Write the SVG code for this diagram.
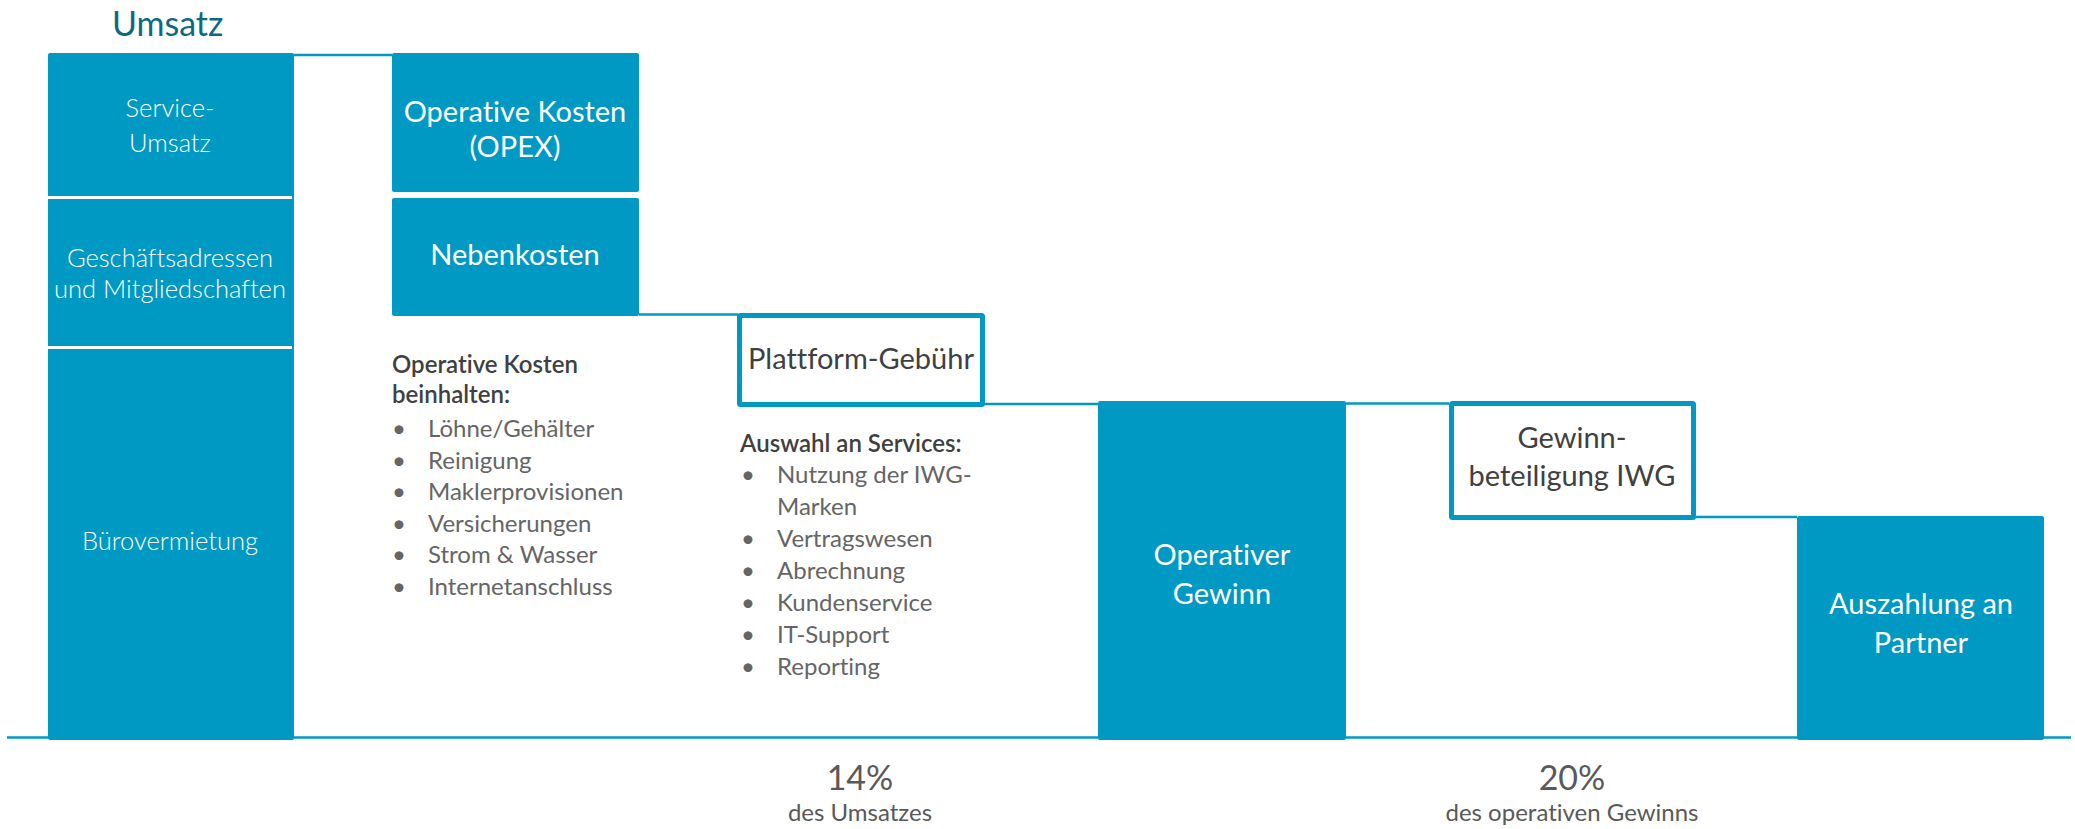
<svg xmlns="http://www.w3.org/2000/svg" width="2075" height="829" viewBox="0 0 2075 829">
<style>
.fill{fill:#0099C4}
.outl{fill:#fff;stroke:#0099C4;stroke-width:5}
.ln{stroke:#0099C4;stroke-width:2.5;fill:none}
.div{stroke:#fff;stroke-width:3}
.t{font-family:Lato,"Open Sans",sans-serif;font-variant-ligatures:none}
.wl{fill:#fff;font-size:25.5px;font-weight:300;text-anchor:middle}
.wr{fill:#fff;font-size:29px;text-anchor:middle}
.gr{fill:#404040;font-size:29px;text-anchor:middle}
.hd{fill:#404040;font-size:24px;font-weight:600}
.it{fill:#656565;font-size:24px}
.pc{fill:#595959;font-size:34px;text-anchor:middle}
.sub{fill:#595959;font-size:24px;text-anchor:middle}
</style>
<rect width="2075" height="829" fill="#fff"/>
<g id="connectors">
<line class="ln" x1="294" y1="55" x2="392" y2="55"/>
<line class="ln" x1="639" y1="314.5" x2="738" y2="314.5"/>
<line class="ln" x1="984" y1="404" x2="1098" y2="404"/>
<line class="ln" x1="1346" y1="403.5" x2="1449" y2="403.5"/>
<line class="ln" x1="1695" y1="517" x2="1797" y2="517"/>
<line class="ln" x1="7" y1="737.5" x2="2071" y2="737.5"/>
</g>
<text class="t" x="112" y="36" font-size="34" fill="#0B6A80">Umsatz</text>
<g id="umsatz">
<rect class="fill" x="48" y="53" width="246" height="687" rx="2"/>
<line class="div" x1="48" y1="197.5" x2="292" y2="197.5"/>
<line class="div" x1="48" y1="347.5" x2="292" y2="347.5"/>
<text class="t wl" x="170" y="117">Service-</text>
<text class="t wl" x="170" y="152">Umsatz</text>
<text class="t wl" x="170" y="267">Geschäftsadressen</text>
<text class="t wl" x="170" y="298">und Mitgliedschaften</text>
<text class="t wl" x="170" y="550">Bürovermietung</text>
</g>
<g id="opex">
<rect class="fill" x="392" y="53" width="247" height="139" rx="2"/>
<text class="t wr" x="515" y="122">Operative Kosten</text>
<text class="t wr" x="515" y="157">(OPEX)</text>
</g>
<g id="nebenkosten">
<rect class="fill" x="392" y="198" width="247" height="118" rx="2"/>
<text class="t wr" x="515" y="265">Nebenkosten</text>
</g>
<g id="opex-list">
<text class="t hd" x="392" y="373">Operative Kosten</text>
<text class="t hd" x="392" y="403">beinhalten:</text>
<g class="t it">
<text x="392" y="437">•</text><text x="428" y="437">Löhne/Gehälter</text>
<text x="392" y="468.6">•</text><text x="428" y="468.6">Reinigung</text>
<text x="392" y="500.2">•</text><text x="428" y="500.2">Maklerprovisionen</text>
<text x="392" y="531.8">•</text><text x="428" y="531.8">Versicherungen</text>
<text x="392" y="563.4">•</text><text x="428" y="563.4">Strom &amp; Wasser</text>
<text x="392" y="595">•</text><text x="428" y="595">Internetanschluss</text>
</g>
</g>
<g id="plattform">
<rect class="outl" x="739.5" y="315.5" width="243" height="89" rx="1"/>
<text class="t gr" x="861" y="369">Plattform-Gebühr</text>
</g>
<g id="services-list">
<text class="t hd" x="740" y="452">Auswahl an Services:</text>
<g class="t it">
<text x="741" y="483">•</text><text x="777" y="483">Nutzung der IWG-</text>
<text x="777" y="515">Marken</text>
<text x="741" y="547">•</text><text x="777" y="547">Vertragswesen</text>
<text x="741" y="579">•</text><text x="777" y="579">Abrechnung</text>
<text x="741" y="611">•</text><text x="777" y="611">Kundenservice</text>
<text x="741" y="643">•</text><text x="777" y="643">IT-Support</text>
<text x="741" y="675">•</text><text x="777" y="675">Reporting</text>
</g>
</g>
<g id="operativer-gewinn">
<rect class="fill" x="1098" y="401" width="248" height="339" rx="2"/>
<text class="t wr" x="1222" y="565">Operativer</text>
<text class="t wr" x="1222" y="604">Gewinn</text>
</g>
<g id="gewinnbeteiligung">
<rect class="outl" x="1451.5" y="403.5" width="242" height="114" rx="1"/>
<text class="t gr" x="1572" y="448">Gewinn-</text>
<text class="t gr" x="1572" y="486">beteiligung IWG</text>
</g>
<g id="auszahlung">
<rect class="fill" x="1797" y="516" width="247" height="224" rx="2"/>
<text class="t wr" x="1921" y="614">Auszahlung an</text>
<text class="t wr" x="1921" y="653">Partner</text>
</g>
<g id="pct-14">
<text class="t pc" x="860" y="790">14%</text>
<text class="t sub" x="860" y="821">des Umsatzes</text>
</g>
<g id="pct-20">
<text class="t pc" x="1572" y="790">20%</text>
<text class="t sub" x="1572" y="821">des operativen Gewinns</text>
</g>
</svg>
